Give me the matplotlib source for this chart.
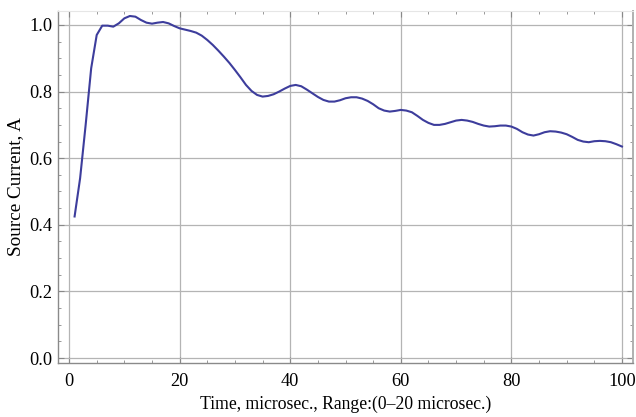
import matplotlib.pyplot as plt
import numpy as np
from matplotlib.ticker import MultipleLocator

# source current trace, time in microseconds
time_us = [1, 2, 3, 4, 5, 6, 7, 8, 9, 10, 11, 12, 13, 14, 15, 16, 17, 18, 19, 20,
           21, 22, 23, 24, 25, 26, 27, 28, 29, 30, 31, 32, 33, 34, 35, 36, 37, 38,
           39, 40, 41, 42, 43, 44, 45, 46, 47, 48, 49, 50, 51, 52, 53, 54, 55, 56,
           57, 58, 59, 60, 61, 62, 63, 64, 65, 66, 67, 68, 69, 70, 71, 72, 73, 74,
           75, 76, 77, 78, 79, 80, 81, 82, 83, 84, 85, 86, 87, 88, 89, 90, 91, 92,
           93, 94, 95, 96, 97, 98, 99, 100]
current_a = [0.425, 0.54, 0.70, 0.87, 0.97, 0.998, 0.998, 0.995, 1.005, 1.02,
             1.027, 1.025, 1.015, 1.007, 1.004, 1.007, 1.009, 1.005, 0.997, 0.99,
             0.986, 0.982, 0.977, 0.968, 0.955, 0.94, 0.923, 0.905, 0.886, 0.865,
             0.843, 0.82, 0.802, 0.79, 0.785, 0.787, 0.792, 0.80, 0.809, 0.817,
             0.82, 0.816, 0.806, 0.795, 0.784, 0.775, 0.77, 0.77, 0.774, 0.78,
             0.783, 0.783, 0.779, 0.772, 0.762, 0.75, 0.743, 0.74, 0.742, 0.745,
             0.743, 0.738, 0.727, 0.715, 0.706, 0.70, 0.70, 0.703, 0.708, 0.713,
             0.715, 0.713, 0.709, 0.703, 0.698, 0.695, 0.696, 0.698, 0.698, 0.695,
             0.688, 0.678, 0.671, 0.668, 0.672, 0.678, 0.681, 0.68, 0.677, 0.672,
             0.664, 0.655, 0.65, 0.648, 0.651, 0.652, 0.651, 0.648, 0.642, 0.635]

x_ticks = [0, 20, 40, 60, 80, 100]
y_ticks = [0.0, 0.2, 0.4, 0.6, 0.8, 1.0]

plt.rcParams['font.family'] = ['Liberation Serif', 'DejaVu Serif']

fig = plt.figure(figsize=(6.36, 4.17), dpi=100)
ax = fig.add_axes([0.0912, 0.1295, 0.9041, 0.8441])

ax.plot(time_us, current_a, color='#3d3d9c', lw=1.5, zorder=3)

ax.set_xlim(-2, 102)
ax.set_ylim(-0.015, 1.042)
ax.set_xticks(x_ticks)
ax.set_yticks(y_ticks)
ax.set_yticklabels([f"{v:.1f}" for v in y_ticks])
ax.xaxis.set_minor_locator(MultipleLocator(5))
ax.yaxis.set_minor_locator(MultipleLocator(0.05))
ax.grid(True, which='major', color='#b4b4b4', lw=0.9)
ax.tick_params(which='both', direction='in', color='#888888', labelsize=13.2,
               top=True, right=True)
ax.tick_params(which='major', length=4)
ax.tick_params(which='minor', length=2)
ax.tick_params(axis='y', pad=4)
ax.tick_params(axis='x', pad=7)

for side in ['left', 'bottom', 'right']:
    ax.spines[side].set_color('#8a8a8a')
    ax.spines[side].set_linewidth(1.0)
ax.spines['top'].set_color('#e6e6e6')
ax.spines['right'].set_color('#b0b0b0')
ax.spines['right'].set_linewidth(1.4)

ax.set_xlabel("Time, microsec., Range:(0\u201320 microsec.)", fontsize=12.7, labelpad=4)
ax.set_ylabel("Source Current, A", fontsize=13.8, labelpad=4)

fig.savefig("out.png", dpi=100)
